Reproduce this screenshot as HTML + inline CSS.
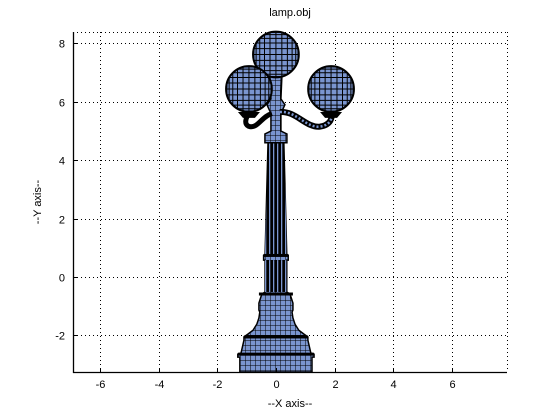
<!DOCTYPE html>
<html><head><meta charset="utf-8">
<style>
body{margin:0;background:#fff;}
svg{display:block;font-family:"Liberation Sans",sans-serif;}
</style></head>
<body>
<svg id="chart" width="560" height="419" viewBox="0 0 560 419">
<defs>
<pattern id="mesh" width="5" height="5" patternUnits="userSpaceOnUse">
<rect width="5" height="5" fill="#7a95cf"/>
<path d="M0 0H5M0 0V5" stroke="#000" stroke-width="1"/>
</pattern>
<pattern id="shaft" width="4" height="40" patternUnits="userSpaceOnUse">
<rect width="4" height="40" fill="#000"/>
<rect x="1" y="0" width="1.3" height="40" fill="#7a95cf"/>
</pattern>
</defs>
<rect width="560" height="419" fill="#fff"/>
<g id="grid"></g>
<g id="lamp"></g>
<g id="axes"></g>
<text x="290" y="16" font-size="11" text-anchor="middle">lamp.obj</text>
<text x="290" y="407" font-size="11" text-anchor="middle">--X axis--</text>
<text x="0" y="0" font-size="11" text-anchor="middle" transform="translate(41,202) rotate(-90)">--Y axis--</text>
</svg>
<script>
const xTicks=[-6,-4,-2,0,2,4,6];
const yTicks=[-2,0,2,4,6,8];
const xDomain=[-6.92,7.88];
const yDomain=[-3.25,8.39];
// lamp profile: [y, halfWidth] in data units
const profileY=[4.58,0.74,0.74,0.68,0.68,0.58,0.58,-0.51,-0.58,-0.89,-1.13,-1.2,-1.4,-1.61,-1.82,-1.95,-2.05,-2.16,-2.6,-2.64,-2.74,-2.74,-3.25];
const profileHW=[0.27,0.37,0.42,0.42,0.42,0.42,0.37,0.37,0.48,0.58,0.58,0.55,0.58,0.65,0.78,0.95,1.09,1.09,1.19,1.3,1.3,1.23,1.23];
// globes: centers and radius (data units)
const globeX=[0,-0.92,1.88];
const globeY=[7.62,6.44,6.44];
const globeR=[0.78,0.78,0.78];
const L=73,R=507,T=32,B=372;
const sx=v=>L+(v-xDomain[0])/(xDomain[1]-xDomain[0])*(R-L);
const sy=v=>B-(v-yDomain[0])/(yDomain[1]-yDomain[0])*(B-T);
const NS="http://www.w3.org/2000/svg";
function mk(tag,attrs,parent){const e=document.createElementNS(NS,tag);for(const k in attrs)e.setAttribute(k,attrs[k]);parent.appendChild(e);return e;}
const grid=document.getElementById('grid'),axes=document.getElementById('axes'),lamp=document.getElementById('lamp');
const dot={stroke:"#000","stroke-width":1,"stroke-dasharray":"1,3"};
xTicks.forEach(t=>{
 const x=Math.round(sx(t))+0.5;
 const g=mk('line',Object.assign({x1:x,x2:x,y1:T,y2:B},dot),grid);
 
 
 const tk=mk('line',{x1:x,x2:x,y1:B,y2:B-4,stroke:"#000"},axes);
 
 
 const lb=mk('text',{x:x,y:B+16,"font-size":11,"text-anchor":"middle"},axes);
 lb.textContent=t;
 
 
});
yTicks.forEach(t=>{
 const y=Math.round(sy(t))+0.5;
 const g=mk('line',Object.assign({x1:L,x2:R,y1:y,y2:y},dot),grid);
 
 
 const tk=mk('line',{x1:L,x2:L+4,y1:y,y2:y,stroke:"#000"},axes);
 
 
 const lb=mk('text',{x:L-8,y:y+4,"font-size":11,"text-anchor":"end"},axes);
 lb.textContent=t;
 
 
});
const tb=mk('line',Object.assign({x1:L,x2:R,y1:T+0.5,y2:T+0.5},dot),grid);


const rb=mk('line',Object.assign({x1:R+0.5,x2:R+0.5,y1:T,y2:B},dot),grid);


const xa=mk('line',{x1:L,x2:R,y1:B+0.5,y2:B+0.5,stroke:"#000","stroke-width":1.3},axes);


const ya=mk('line',{x1:L+0.5,x2:L+0.5,y1:T,y2:B+1,stroke:"#000","stroke-width":1.3},axes);



// body
const cx=sx(0);
let pts=[];
for(let i=0;i<profileY.length;i++)pts.push([cx-profileHW[i]*29.33,sy(profileY[i])]);
for(let i=profileY.length-1;i>=0;i--)pts.push([cx+profileHW[i]*29.33,sy(profileY[i])]);
const body=mk('polygon',{points:pts.map(p=>p.join(',')).join(' '),fill:"url(#mesh)",stroke:"#000","stroke-width":1.5},lamp);


// fluted shaft
const sh=mk('polygon',{points:`${cx-8},${sy(4.58)} ${cx+8},${sy(4.58)} ${cx+11},${sy(0.74)} ${cx-11},${sy(0.74)}`,fill:"url(#shaft)"},lamp);


const sh2=mk('rect',{x:cx-11,y:sy(0.58),width:22,height:sy(-0.51)-sy(0.58),fill:"url(#shaft)"},lamp);


// ledges
[[0.74,12.5],[-0.58,17],[-2.05,32],[-2.64,38]].forEach(l=>{
 const r=mk('rect',{x:cx-l[1],y:sy(l[0])-1.5,width:2*l[1],height:3,fill:"#000"},lamp);
 
 
});
// upper neck and collar
const neck=mk('path',{d:`M${cx-6},${sy(6.9)} L${cx+6},${sy(6.9)} L${cx+5},${sy(6.1)} L${cx+9},${sy(5.9)} L${cx+5},${sy(5.6)} L${cx+5},${sy(5.0)} L${cx+11},${sy(4.9)} L${cx+11},${sy(4.6)} L${cx-11},${sy(4.6)} L${cx-11},${sy(4.9)} L${cx-5},${sy(5.0)} L${cx-5},${sy(5.6)} L${cx-9},${sy(5.9)} L${cx-5},${sy(6.1)} Z`,fill:"url(#mesh)",stroke:"#000","stroke-width":1.5},lamp);


// arms
const armL=mk('path',{d:`M${cx-4},${sy(5.6)} C${cx-14},${sy(5.5)} ${cx-18},${sy(5.1)} ${cx-26},${sy(5.15)} C${cx-33},${sy(5.2)} ${cx-30},${sy(5.5)} ${cx-26},${sy(5.6)}`,fill:"none",stroke:"#000","stroke-width":5},lamp);


const armR=mk('path',{d:`M${cx+4},${sy(5.65)} C${cx+20},${sy(5.7)} ${cx+30},${sy(5.1)} ${cx+44},${sy(5.15)} C${cx+54},${sy(5.2)} ${cx+56},${sy(5.4)} ${cx+56},${sy(5.6)}`,fill:"none",stroke:"#000","stroke-width":6},lamp);


const armR2=mk('path',{d:armR.getAttribute('d'),fill:"none",stroke:"#7a95cf","stroke-width":2.5,"stroke-dasharray":"2,2"},lamp);


// globe cups
[-0.92,1.88].forEach(gx=>{
 const c=mk('path',{d:`M${sx(gx)-11},${sy(5.65)} L${sx(gx)+11},${sy(5.65)} L${sx(gx)+6},${sy(5.45)} L${sx(gx)-6},${sy(5.45)} Z`,fill:"#000"},lamp);
 
 
});
// globes
for(let i=0;i<globeX.length;i++){
 const gx=sx(globeX[i]),gy=sy(globeY[i]),r=globeR[i]*29.33;
 const g=mk('g',{},lamp);
 
 
 mk('circle',{cx:gx,cy:gy,r:r,fill:"#7a95cf"},g);
 for(let k=-5;k<=5;k++){
  const yy=gy+r*Math.sin(k*Math.PI/12);
  const hw=Math.sqrt(Math.max(0,r*r-(yy-gy)**2));
  mk('line',{x1:gx-hw,x2:gx+hw,y1:yy,y2:yy,stroke:"#000","stroke-width":1},g);
 }
 for(let k=-5;k<=5;k++){
  const xx=gx+r*Math.sin(k*Math.PI/12);
  const hh=Math.sqrt(Math.max(0,r*r-(xx-gx)**2));
  mk('line',{x1:xx,x2:xx,y1:gy-hh,y2:gy+hh,stroke:"#000","stroke-width":1},g);
 }
 mk('circle',{cx:gx,cy:gy,r:r,fill:"none",stroke:"#000","stroke-width":2},g);
}
</script>
</body></html>
